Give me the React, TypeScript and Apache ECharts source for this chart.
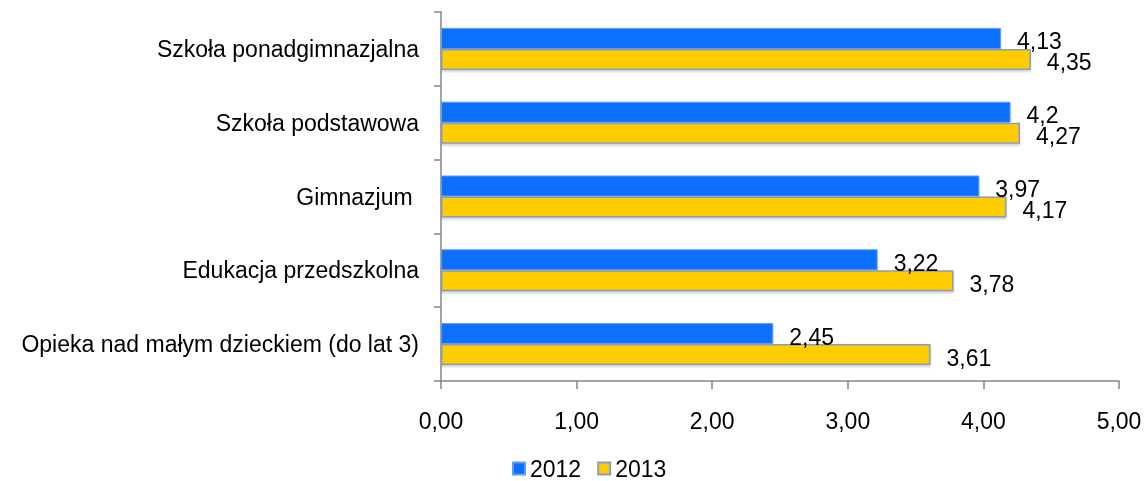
import React, { useEffect, useRef } from "react";
import * as echarts from "echarts";

const categories = [
  "Opieka nad małym dzieckiem (do lat 3)",
  "Edukacja przedszkolna",
  "Gimnazjum ",
  "Szkoła podstawowa",
  "Szkoła ponadgimnazjalna",
];
const values2012 = [2.45, 3.22, 3.97, 4.2, 4.13];
const values2013 = [3.61, 3.78, 4.17, 4.27, 4.35];
const seriesNames = ["2012", "2013"];

const FONT = "Liberation Sans, Arial, sans-serif";
const FS = 23;

export default function App() {
  const ref = useRef<HTMLDivElement>(null);
  useEffect(() => {
    if (!ref.current) return;
    const chart = echarts.init(ref.current, null, { renderer: "svg" });
    const label = {
      show: true,
      position: "right",
      distance: 16,
      offset: [0, 3],
      color: "#000",
      fontFamily: FONT,
      fontSize: FS,
      formatter: (p: any) => String(p.value).replace(".", ","),
    };
    chart.setOption({
      animation: false,
      textStyle: { fontFamily: FONT },
      grid: { left: 441, right: 26, top: 12, bottom: 100, containLabel: false },
      legend: {
        data: seriesNames,
        left: 507,
        top: 452,
        icon: "rect",
        itemWidth: 12,
        itemHeight: 12,
        itemGap: 16,
        textStyle: { fontFamily: FONT, fontSize: FS, color: "#000" },
      },
      xAxis: {
        type: "value",
        min: 0,
        max: 5,
        interval: 1,
        axisLine: { show: true, lineStyle: { color: "#868686", width: 1.5 } },
        axisTick: { show: true, length: 8, lineStyle: { color: "#868686", width: 1.5 } },
        splitLine: { show: false },
        axisLabel: {
          margin: 28,
          color: "#000",
          fontFamily: FONT,
          fontSize: FS,
          formatter: (v: number) => v.toFixed(2).replace(".", ","),
        },
      },
      yAxis: {
        type: "category",
        data: categories,
        axisLine: { show: true, lineStyle: { color: "#868686", width: 1.5 } },
        axisTick: { show: true, length: 7, lineStyle: { color: "#868686", width: 1.5 } },
        axisLabel: { margin: 22, color: "#000", fontFamily: FONT, fontSize: FS },
        splitLine: { show: false },
      },
      series: [
        {
          name: seriesNames[0],
          type: "bar",
          data: values2012,
          barWidth: 21,
          barGap: "0%",
          itemStyle: {
            color: "#0870FF",
            borderColor: "#5d9cf2",
            borderWidth: 1,
            shadowColor: "rgba(110,130,160,0.35)",
            shadowOffsetY: 2,
            shadowBlur: 2,
          },
          label,
        },
        {
          name: seriesNames[1],
          type: "bar",
          data: values2013,
          barWidth: 21,
          barGap: "0%",
          itemStyle: {
            color: "#FFCC00",
            borderColor: "#8c9cb2",
            borderWidth: 1.5,
            shadowColor: "rgba(110,130,160,0.35)",
            shadowOffsetY: 2,
            shadowBlur: 2,
          },
          label,
        },
      ],
    });
    return () => chart.dispose();
  }, []);
  return (
    <div
      ref={ref}
      style={{ position: "fixed", left: 0, top: 0, width: 1145, height: 481 }}
    />
  );
}
